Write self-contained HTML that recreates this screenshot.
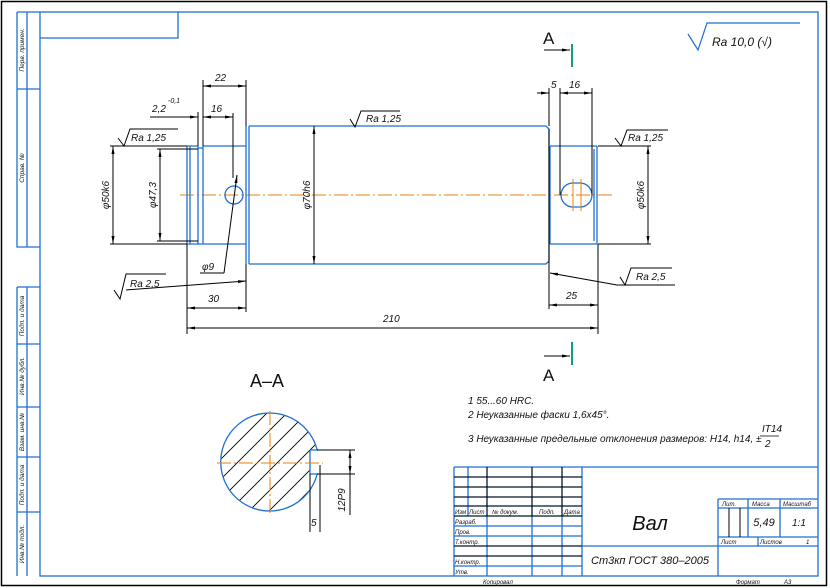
<!DOCTYPE html>
<html><head><meta charset="utf-8"><style>
html,body{margin:0;padding:0;background:#fff;}
svg{display:block;}
text{font-family:"Liberation Sans","DejaVu Sans",sans-serif;font-style:italic;fill:#111;}
.b{stroke:#1f6fd0;fill:none;stroke-width:1.3;}
.k{stroke:#000;fill:none;stroke-width:1;}
.o{stroke:#e8820c;fill:none;stroke-width:1;stroke-dasharray:14,3,2,3;}
</style></head><body>
<svg width="830" height="588" viewBox="0 0 830 588" xmlns="http://www.w3.org/2000/svg">
<defs>
<marker id="a" markerWidth="8" markerHeight="6" refX="8" refY="3" orient="auto-start-reverse" markerUnits="userSpaceOnUse"><path d="M0,1.5 L8,3 L0,4.5z" fill="#000"/></marker>
<clipPath id="cc"><path d="M317.2,450 A49,49 0 1 0 317.2,474 L310,474 V450 Z"/></clipPath>
</defs>
<rect x="1.5" y="1.5" width="825" height="584" fill="none" stroke="#000" stroke-width="1.5"/>
<rect x="40" y="12" width="778" height="564" class="b"/>
<path d="M40,38 H178 V12" class="b"/>
<path d="M17,12 H40 M17,12 V247 H40 M27,12 V247 M17,89 H40" class="b"/>
<path d="M17,287 H40 M17,287 V576 M27,287 V576 M17,344 H40 M17,407 H40 M17,457 H40 M17,512 H40" class="b"/>
<g font-size="6.5">
<text transform="translate(24,50) rotate(-90)" text-anchor="middle">Перв. примен.</text>
<text transform="translate(24,168) rotate(-90)" text-anchor="middle">Справ. №</text>
<text transform="translate(24,316) rotate(-90)" text-anchor="middle">Подп. и дата</text>
<text transform="translate(24,376) rotate(-90)" text-anchor="middle">Инв.№ дубл.</text>
<text transform="translate(24,432) rotate(-90)" text-anchor="middle">Взам. инв.№</text>
<text transform="translate(24,485) rotate(-90)" text-anchor="middle">Подп. и дата</text>
<text transform="translate(24,544) rotate(-90)" text-anchor="middle">Инв.№ подл.</text>
</g>
<g class="b">
<path d="M454,467 H818 M454,467 V576 M582,467 V576 M718,499 V576 M718,499 H818 M718,508 H818 M718,537 H818 M718,546 H818 M582,546 H718 M748,499 V537 M780,499 V537 M758,537 V546"/>
<path d="M468,467 V516 M487,467 V576 M532,467 V576 M562,467 V576 M454,477 H582 M454,487 H582 M454,497 H582 M454,506 H582 M454,516 H582 M454,526 H582 M454,536 H582 M454,546 H582 M454,556 H582 M454,566 H582"/>
</g>
<path d="M454,477 H582 M454,487 H582 M454,497 H582 M454,506 H582 M454,516 H582 M454,546 H582 M454,556 H582 M729,508 V537 M740,508 V537 M487,467 V516 M532,467 V516 M562,467 V516" class="k" stroke-width="1.2"/>
<g font-size="6">
<text x="455" y="514">Изм</text><text x="469" y="514">Лист</text><text x="492" y="514">№ докум.</text><text x="539" y="514">Подп.</text><text x="564" y="514">Дата</text>
<text x="455" y="524">Разраб.</text><text x="455" y="534">Пров.</text><text x="455" y="544">Т.контр.</text><text x="455" y="564">Н.контр.</text><text x="455" y="574">Утв.</text>
<text x="722" y="506">Лит.</text><text x="752" y="506">Масса</text><text x="783" y="506">Масштаб</text>
<text x="721" y="544">Лист</text><text x="760" y="544">Листов</text><text x="806" y="544">1</text>
<text x="483" y="584">Копировал</text><text x="736" y="584">Формат</text><text x="784" y="584">А3</text>
</g>
<text x="650" y="530" font-size="20" text-anchor="middle">Вал</text>
<text x="650" y="564" font-size="11" text-anchor="middle">Ст3кп ГОСТ 380–2005</text>
<text x="764" y="526" font-size="11" text-anchor="middle">5,49</text>
<text x="799" y="526" font-size="10" text-anchor="middle">1:1</text>
<line x1="180" y1="195" x2="612" y2="195" class="o"/>
<g class="b">
<path d="M187,146 V244 M190,146 V244 M187,146 H198 M187,244 H198 M198,146 V244 M198,148 H203 M198,244 H203 M203,146 V244 M203,146 H246 M203,244 H246"/>
<path d="M246,126 V264 M249,126 V264 M249,126 H546 L549,129 V261 L546,264 H249"/>
<path d="M550,146 V244 M550,146 H597 M550,244 H597 M597,146 V244 M594,149 V241"/>
<circle cx="234" cy="195" r="9"/>
<rect x="561" y="183" width="31" height="24" rx="12"/>
</g>
<path d="M573,179 V211 M581,179 V211" stroke="#e8820c" stroke-width="1"/>
<g class="k">
<path d="M203,146 V80 M246,126 V80"/><line x1="203" y1="86" x2="246" y2="86" marker-start="url(#a)" marker-end="url(#a)"/>
<path d="M198,146 V112"/><line x1="150" y1="117" x2="198" y2="117" marker-end="url(#a)"/>
<path d="M233,113 V178"/><line x1="203" y1="117" x2="233" y2="117" marker-start="url(#a)" marker-end="url(#a)"/>
<path d="M110,146 H187 M110,244 H187"/><line x1="113" y1="146" x2="113" y2="244" marker-start="url(#a)" marker-end="url(#a)"/>
<path d="M157,149 H198 M157,241 H198"/><line x1="160" y1="149" x2="160" y2="241" marker-start="url(#a)" marker-end="url(#a)"/>
<line x1="314" y1="126" x2="314" y2="264" marker-start="url(#a)" marker-end="url(#a)"/>
<path d="M224,273 H200"/><line x1="224" y1="273" x2="237" y2="175" marker-end="url(#a)"/>
<path d="M114,290 L120,299 L126,274 H166"/><line x1="126" y1="290" x2="246" y2="281" marker-end="url(#a)"/>
<path d="M118,138 L124,146 L130,129 H178"/>
<path d="M187,244 V334 M246,264 V312"/><line x1="187" y1="308" x2="246" y2="308" marker-start="url(#a)" marker-end="url(#a)"/>
<path d="M598,244 V334"/><line x1="187" y1="328" x2="598" y2="328" marker-start="url(#a)" marker-end="url(#a)"/>
<path d="M350,119 L355,127 L361,111 H400"/>
<path d="M549,129 V309 M549,88 V126 M560,88 V195 M592,88 V195"/>
<line x1="537" y1="93" x2="549" y2="93" marker-end="url(#a)"/>
<line x1="560" y1="93" x2="592" y2="93" marker-start="url(#a)" marker-end="url(#a)"/>
<line x1="549" y1="305" x2="598" y2="305" marker-start="url(#a)" marker-end="url(#a)"/>
<path d="M598,146 H651 M598,244 H651"/><line x1="648" y1="146" x2="648" y2="244" marker-start="url(#a)" marker-end="url(#a)"/>
<path d="M615,138 L621,146 L627,130 H668"/>
<path d="M617,285 H675 M620,277 L625,285 L631,268 H672"/><line x1="617" y1="285" x2="550" y2="273" marker-end="url(#a)"/>
<line x1="544" y1="50" x2="570" y2="50" marker-end="url(#a)"/>
<line x1="544" y1="356" x2="570" y2="356" marker-end="url(#a)"/>
</g>
<path d="M572,44 V67 M572,342 V365" stroke="#139b8a" stroke-width="2"/>
<text x="543" y="44" font-size="17" style="font-style:normal">A</text>
<text x="543" y="381" font-size="17" style="font-style:normal">A</text>
<g font-size="10">
<text x="215" y="81">22</text>
<text x="152" y="112">2,2</text><text x="168" y="103" font-size="7">-0,1</text>
<text x="211" y="112">16</text>
<text x="131" y="141">Ra 1,25</text>
<text transform="translate(109,195) rotate(-90)" text-anchor="middle">φ50k6</text>
<text transform="translate(156,195) rotate(-90)" text-anchor="middle">φ47,3</text>
<text transform="translate(310,195) rotate(-90)" text-anchor="middle">φ70h6</text>
<text x="202" y="270">φ9</text>
<text x="130" y="287">Ra 2,5</text>
<text x="208" y="302">30</text>
<text x="383" y="322">210</text>
<text x="366" y="122">Ra 1,25</text>
<text x="551" y="88">5</text>
<text x="569" y="88">16</text>
<text x="628" y="141">Ra 1,25</text>
<text transform="translate(644,195) rotate(-90)" text-anchor="middle">φ50k6</text>
<text x="636" y="280">Ra 2,5</text>
<text x="566" y="299">25</text>
</g>
<path d="M688,34 L698,50 L707,23 H800" stroke="#1f6fd0" fill="none" stroke-width="1.2"/>
<text x="712" y="46" font-size="12">Ra 10,0 (√)</text>
<text x="250" y="387" font-size="18" style="font-style:normal">A–A</text>
<g clip-path="url(#cc)" stroke="#000" stroke-width="0.9">
<path d="M180,520 L330,370 M190,530 L340,380 M200,540 L350,390 M210,550 L360,400 M220,560 L370,410 M230,570 L380,420 M240,580 L390,430 M250,590 L400,440 M170,510 L320,360 M160,500 L310,350 M150,490 L300,340 M140,480 L290,330 M130,470 L280,320 M120,460 L270,310 M110,450 L260,300 M260,600 L410,450 M270,610 L420,460"/>
</g>
<path d="M317.2,450 A49,49 0 1 0 317.2,474 L310,474 V450 Z" class="b" stroke-width="1"/>
<line x1="217" y1="463" x2="323" y2="463" class="o"/>
<line x1="270" y1="411" x2="270" y2="515" class="o"/>
<g class="k">
<path d="M317,450 H355 M317,474 H355 M350,474 V515 M310,474 V532 M320,465 V532"/>
<line x1="350" y1="450" x2="350" y2="474" marker-start="url(#a)" marker-end="url(#a)"/>
</g>
<text transform="translate(345,500) rotate(-90)" text-anchor="middle" font-size="10">12P9</text>
<text x="311" y="526" font-size="10">5</text>
<g font-size="10">
<text x="468" y="404">1 55...60 HRC.</text>
<text x="468" y="418">2 Неуказанные фаски 1,6x45°.</text>
<text x="468" y="442">3 Неуказанные предельные отклонения размеров: H14, h14, ±</text>
<text x="762" y="432">IT14</text><text x="765" y="447">2</text>
</g>
<line x1="760" y1="436" x2="779" y2="436" stroke="#000" stroke-width="0.8"/>
</svg>
</body></html>
